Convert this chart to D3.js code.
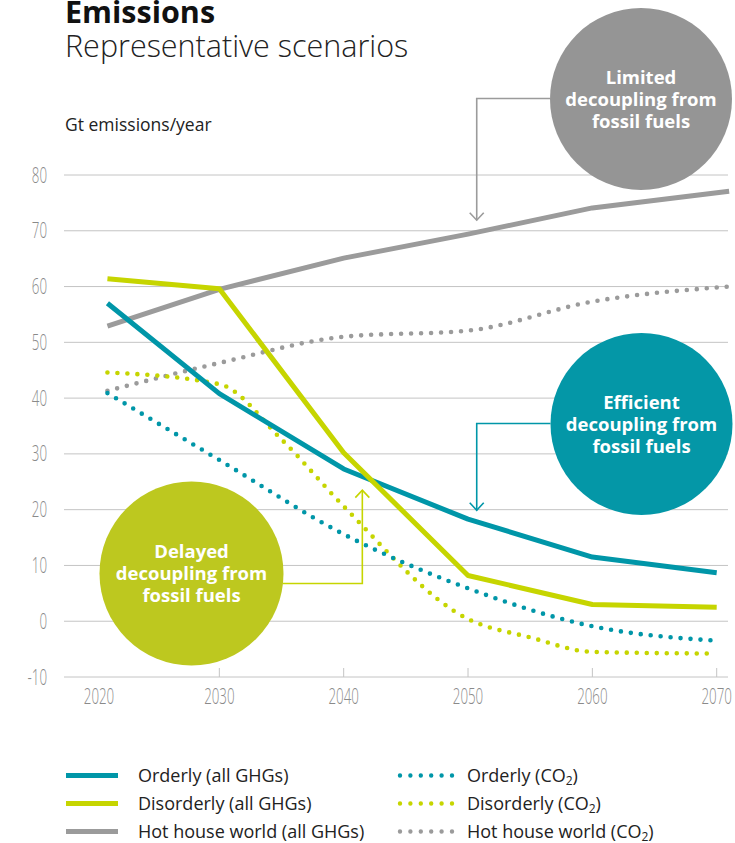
<!DOCTYPE html>
<html>
<head>
<meta charset="utf-8">
<script src="https://cdn.jsdelivr.net/npm/d3@7"></script>
<style>
  html, body { margin: 0; padding: 0; background: #fff; }
  svg { display: block; }
  .tick-label { font-family: "Open Sans", "Noto Sans", sans-serif; font-weight: 300; fill: #8a8a8a; font-size: 21.5px; }
</style>
</head>
<body>
<svg id="chart" width="735" height="843"></svg>
<script>
// Emissions pathways, Gt per year
const yearTicks = [2020, 2030, 2040, 2050, 2060, 2070];
const valueTicks = [80, 70, 60, 50, 40, 30, 20, 10, 0, -10];

const orderlyYears = [2021, 2030, 2040, 2050, 2060, 2070];
const orderlyGhg = [57.0, 40.8, 27.3, 18.3, 11.5, 8.7];
const orderlyCo2 = [40.9, 28.9, 15.6, 5.9, -0.9, -3.5];

const disorderlyYears = [2021, 2030, 2040, 2050, 2060, 2070];
const disorderlyGhg = [61.4, 59.6, 30.2, 8.2, 3.0, 2.5];
const disorderlyCo2Years = [2021, 2030, 2035, 2040, 2050, 2055, 2060, 2070];
const disorderlyCo2 = [44.6, 42.5, 32.6, 20.6, 0.4, -2.9, -5.5, -5.8];

const hotHouseYears = [2021, 2030, 2040, 2050, 2060, 2071];
const hotHouseGhg = [52.9, 59.5, 65.1, 69.4, 74.1, 77.1];
const hotHouseCo2 = [41.3, 46.3, 51.0, 52.1, 57.3, 60.0];

const colors = {
  orderly: "#0096a8",
  disorderly: "#c6d500",
  hotHouse: "#9b9b9b"
};
const bubbleColors = {
  orderly: "#0497a7",
  disorderly: "#bdc81f",
  hotHouse: "#959595"
};

const svg = d3.select("#chart");
const font = '"Open Sans", "Noto Sans", sans-serif';
const narrow = 0.62; // horizontal squeeze for the condensed axis numerals

const x = d3.scaleLinear().domain([2020, 2070]).range([95, 716.7]);
const y = d3.scaleLinear().domain([-10, 80]).range([677, 175]);
const gridLeft = 64, gridRight = 728;

// Title block
svg.append("text").attr("x", 65).attr("y", 23)
  .style("font-family", font).style("font-weight", 700).style("font-size", "30.5px")
  .style("fill", "#111").text("Emissions");
svg.append("text").attr("x", 65).attr("y", 57)
  .style("font-family", font).style("font-weight", 300).style("font-size", "30.5px")
  .style("fill", "#222").text("Representative scenarios");
svg.append("text").attr("x", 65).attr("y", 131)
  .style("font-family", font).style("font-weight", 400).style("font-size", "17.5px")
  .style("fill", "#222").text("Gt emissions/year");

// Horizontal gridlines and value labels
const grid = svg.append("g");
grid.selectAll("line").data(valueTicks).join("line")
  .attr("x1", gridLeft).attr("x2", gridRight)
  .attr("y1", d => y(d)).attr("y2", d => y(d))
  .attr("stroke", "#c4c4c4").attr("stroke-width", 1);
grid.selectAll("text").data(valueTicks).join("text")
  .attr("class", "tick-label")
  .attr("transform", d => `translate(47,${y(d)}) scale(${narrow},1)`)
  .attr("dy", "0.35em")
  .attr("text-anchor", "end").text(d => d);

// Year ticks on the baseline
const xAxis = svg.append("g");
xAxis.selectAll("line").data(yearTicks.slice(1)).join("line")
  .attr("x1", d => x(d)).attr("x2", d => x(d))
  .attr("y1", y(-10) - 9).attr("y2", y(-10))
  .attr("stroke", "#c4c4c4").attr("stroke-width", 1);
xAxis.selectAll("text").data(yearTicks).join("text")
  .attr("class", "tick-label")
  .attr("transform", d => `translate(${x(d) + (d === 2020 ? 4 : 0)},704) scale(${narrow},1)`)
  .attr("text-anchor", "middle").text(d => d);

// Series
const pairs = (xs, vs) => xs.map((t, i) => [t, vs[i]]);
const solidLine = d3.line().x(d => x(d[0])).y(d => y(d[1])).curve(d3.curveLinear);
const dottedLine = d3.line().x(d => x(d[0])).y(d => y(d[1])).curve(d3.curveMonotoneX);

const dotted = [
  { data: pairs(hotHouseYears, hotHouseCo2), color: colors.hotHouse },
  { data: pairs(disorderlyCo2Years, disorderlyCo2), color: colors.disorderly },
  { data: pairs(orderlyYears, orderlyCo2), color: colors.orderly }
];
const solid = [
  { data: pairs(hotHouseYears, hotHouseGhg), color: colors.hotHouse },
  { data: pairs(orderlyYears, orderlyGhg), color: colors.orderly },
  { data: pairs(disorderlyYears, disorderlyGhg), color: colors.disorderly }
];

svg.append("g").selectAll("path").data(dotted).join("path")
  .attr("d", d => dottedLine(d.data))
  .attr("fill", "none").attr("stroke", d => d.color)
  .attr("stroke-width", 4.6).attr("stroke-linecap", "round")
  .attr("stroke-dasharray", "0 10");

svg.append("g").selectAll("path").data(solid).join("path")
  .attr("d", d => solidLine(d.data))
  .attr("fill", "none").attr("stroke", d => d.color)
  .attr("stroke-width", 5).attr("stroke-linejoin", "round");

// Scenario callouts: bubble with an elbow arrow pointing at the curve
const callouts = [
  { lines: ["Limited", "decoupling from", "fossil fuels"], fill: bubbleColors.hotHouse, stroke: colors.hotHouse,
    cx: 641, cy: 99, r: 91, elbowY: 98.5, tip: [2050.7, 71.9], dir: "down" },
  { lines: ["Efficient", "decoupling from", "fossil fuels"], fill: bubbleColors.orderly, stroke: colors.orderly,
    cx: 641.5, cy: 424, r: 91, elbowY: 423.5, tip: [2050.7, 19.9], dir: "down" },
  { lines: ["Delayed", "decoupling from", "fossil fuels"], fill: bubbleColors.disorderly, stroke: colors.disorderly,
    cx: 191.5, cy: 573.5, r: 92, elbowY: 583.5, tip: [2041.5, 23.5], dir: "up" }
];

const ann = svg.append("g");
callouts.forEach(c => {
  const tx = x(c.tip[0]), ty = y(c.tip[1]);
  const edgeX = c.cx < tx ? c.cx + Math.sqrt(c.r * c.r - (c.elbowY - c.cy) ** 2)
                          : c.cx - Math.sqrt(c.r * c.r - (c.elbowY - c.cy) ** 2);
  ann.append("polyline")
    .attr("points", [[edgeX, c.elbowY], [tx, c.elbowY], [tx, ty]].map(p => p.join(",")).join(" "))
    .attr("fill", "none").attr("stroke", c.stroke).attr("stroke-width", 1.6);
  const s = c.dir === "down" ? -1 : 1;
  ann.append("polyline")
    .attr("points", [[tx - 7, ty + s * 7.5], [tx, ty], [tx + 7, ty + s * 7.5]].map(p => p.join(",")).join(" "))
    .attr("fill", "none").attr("stroke", c.stroke).attr("stroke-width", 1.6);
  ann.append("circle").attr("cx", c.cx).attr("cy", c.cy).attr("r", c.r).attr("fill", c.fill);
  const t = ann.append("text")
    .attr("text-anchor", "middle")
    .style("font-family", font).style("font-weight", 700).style("font-size", "18.5px")
    .style("fill", "#fff");
  c.lines.forEach((ln, i) => {
    t.append("tspan").attr("x", c.cx).attr("y", c.cy - 15.5 + i * 22).text(ln);
  });
});

// Legend
const legendRows = [
  { label: "Orderly", color: colors.orderly },
  { label: "Disorderly", color: colors.disorderly },
  { label: "Hot house world", color: colors.hotHouse }
];
const rowY = [775.5, 803.5, 831.5];
const legend = svg.append("g").style("font-family", font).style("font-size", "18px").style("fill", "#222");
legendRows.forEach((r, i) => {
  const yy = rowY[i];
  legend.append("line").attr("x1", 66).attr("x2", 118).attr("y1", yy).attr("y2", yy)
    .attr("stroke", r.color).attr("stroke-width", 5);
  legend.append("text").attr("x", 138).attr("y", yy).attr("dy", "0.35em")
    .text(`${r.label} (all GHGs)`);
  legend.append("line").attr("x1", 400).attr("x2", 452).attr("y1", yy).attr("y2", yy)
    .attr("stroke", r.color).attr("stroke-width", 4.4).attr("stroke-linecap", "round")
    .attr("stroke-dasharray", "0 10.4");
  const t = legend.append("text").attr("x", 467).attr("y", yy).attr("dy", "0.35em");
  t.append("tspan").text(`${r.label} (CO`);
  t.append("tspan").attr("baseline-shift", "-25%").style("font-size", "12px").text("2");
  t.append("tspan").text(")");
});
</script>
</body>
</html>
